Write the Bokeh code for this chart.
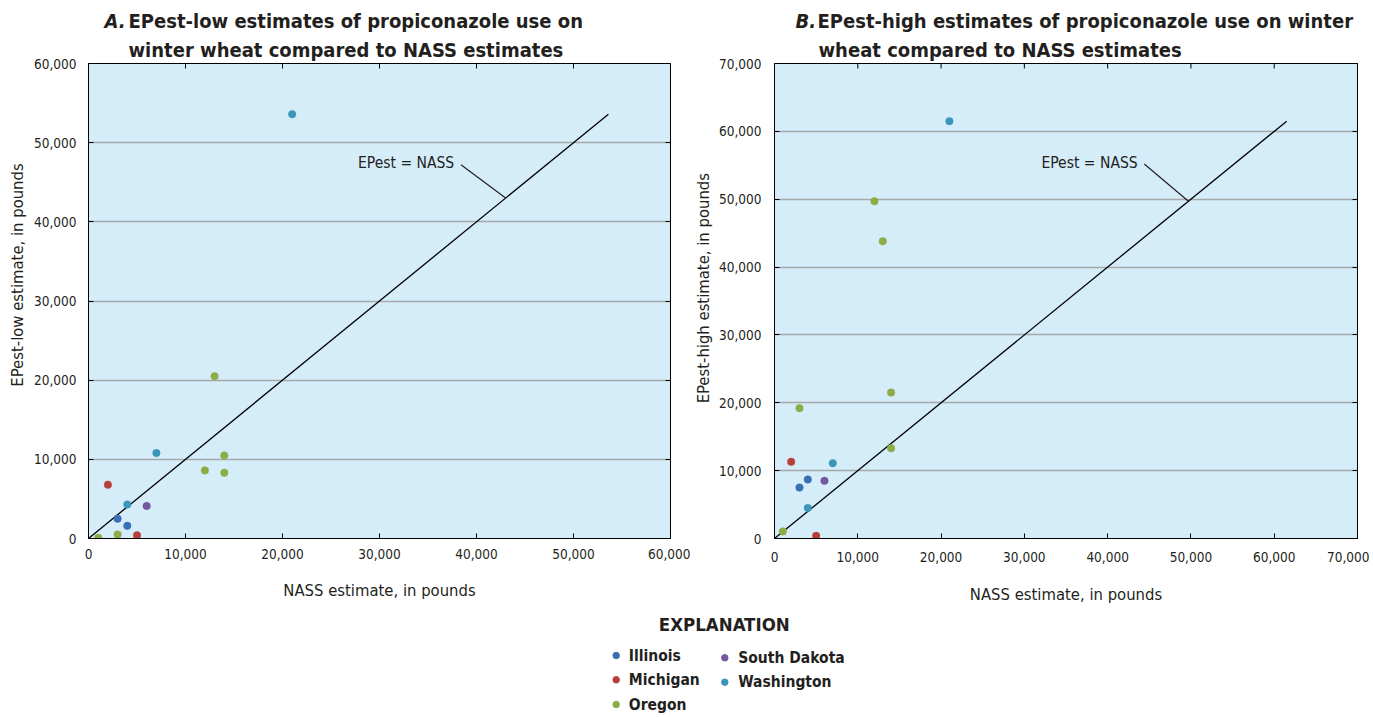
import math
from bokeh.plotting import figure
from bokeh.models import (Range1d, LinearAxis, SingleIntervalTicker, NumeralTickFormatter, ColumnDataSource,
                          Label, CustomJSTickFormatter, Title)
from bokeh.layouts import column, row
from bokeh.embed import file_html
from bokeh.resources import INLINE
from bokeh.core.properties import value

# ---------------- data ----------------
states = ["Illinois", "Michigan", "Oregon", "South Dakota", "Washington"]
state_colors = ["#3b6fb4", "#b73f3a", "#8dab46", "#75579d", "#3a97b7"]

point_state = ["Illinois", "Illinois", "Michigan", "Michigan",
               "Oregon", "Oregon", "Oregon", "Oregon", "Oregon", "Oregon",
               "South Dakota", "Washington", "Washington", "Washington"]
nass_lbs = [3000, 4000, 2000, 5000,
            1000, 3000, 12000, 13000, 14000, 14000,
            6000, 4000, 7000, 21000]
epest_low_lbs = [2500, 1600, 6800, 400,
                 100, 500, 8600, 20500, 10500, 8300,
                 4100, 4300, 10800, 53600]
epest_high_lbs = [7500, 8700, 11300, 400,
                  1050, 19200, 49700, 43800, 21500, 13300,
                  8500, 4500, 11100, 61500]

title_letters = ["A.", "B."]
title_line1 = ["EPest-low estimates of propiconazole use on",
               "EPest-high estimates of propiconazole use on winter"]
title_line2 = ["winter wheat compared to NASS estimates",
               "wheat compared to NASS estimates"]
y_titles = ["EPest-low estimate, in pounds", "EPest-high estimate, in pounds"]
x_title = "NASS estimate, in pounds"

FONT = "'Liberation Sans Narrow', 'DejaVu Sans Condensed', 'DejaVu Sans', sans-serif"
TXT = "#231f20"
BG = "#d5ecf9"
GRID = "#a6a8ab"


def blank(width, height, xr, yr):
    f = figure(width=width, height=height, output_backend="svg", toolbar_location=None,
               x_range=Range1d(*xr), y_range=Range1d(*yr),
               x_axis_type=None, y_axis_type=None, min_border=0)
    f.outline_line_color = None
    f.xgrid.grid_line_color = None
    f.ygrid.grid_line_color = None
    f.background_fill_color = "white"
    f.border_fill_color = "white"
    return f


def make_panel(yvals, axmax, line2, width, height, bl, br, bt, bb, frame_h, lead, ann_x, ann_y,
               tick_standoff_x, tick_standoff_y, xlab_standoff, title_offset):
    p = figure(width=width, height=height, output_backend="svg", toolbar_location=None,
               x_range=Range1d(0, axmax), y_range=Range1d(0, axmax),
               min_border_left=bl, min_border_right=br, min_border_top=bt, min_border_bottom=bb)
    p.background_fill_color = BG
    p.border_fill_color = "white"
    p.outline_line_color = "black"
    p.outline_line_width = 1
    p.xgrid.grid_line_color = None
    p.ygrid.grid_line_color = GRID
    p.ygrid.grid_line_width = 1.3
    p.ygrid.ticker = SingleIntervalTicker(interval=10000)

    for ax in (p.xaxis[0], p.yaxis[0]):
        ax.ticker = SingleIntervalTicker(interval=10000)
        ax.formatter = NumeralTickFormatter(format="0,0")
        ax.major_tick_in = 5
        ax.major_tick_out = 0
        ax.minor_tick_line_color = None
        ax.axis_line_color = "black"
        ax.major_tick_line_color = "black"
        ax.major_label_text_font = FONT
        ax.major_label_text_font_size = "13.5px"
        ax.major_label_text_color = TXT
    p.xaxis[0].major_label_standoff = tick_standoff_x
    p.yaxis[0].major_label_standoff = tick_standoff_y
    p.xaxis[0].axis_label = x_title
    p.xaxis[0].axis_label_text_font = FONT
    p.xaxis[0].axis_label_text_font_size = "16.5px"
    p.xaxis[0].axis_label_text_font_style = "normal"
    p.xaxis[0].axis_label_text_color = TXT
    p.xaxis[0].axis_label_standoff = xlab_standoff

    rax = LinearAxis(ticker=SingleIntervalTicker(interval=10000),
                     formatter=CustomJSTickFormatter(code="return ''"))
    rax.major_tick_in = 5
    rax.major_tick_out = 0
    rax.minor_tick_line_color = None
    rax.major_label_standoff = 0
    rax.axis_line_color = "black"
    p.add_layout(rax, "right")

    # inward tick marks along the top edge
    tick_len = 5 * axmax / frame_h
    tx = list(range(10000, axmax, 10000))
    p.segment(x0=tx, y0=[axmax] * len(tx), x1=tx, y1=[axmax - tick_len] * len(tx),
              line_color="black", line_width=1)

    # second title line
    p.add_layout(Title(text=line2, align="left", offset=title_offset, text_font=FONT,
                       text_font_size="20px", text_font_style="bold", text_color=TXT,
                       standoff=4), "above")

    # 1:1 line
    top = max(yvals)
    p.line([0, top], [0, top], line_color="black", line_width=1.3)
    # leader line and annotation
    p.line([lead[0], lead[2]], [lead[1], lead[3]], line_color=TXT, line_width=1.2)
    p.add_layout(Label(x=ann_x, y=ann_y, text="EPest = NASS", text_font=FONT, text_font_size="15.5px",
                       text_color=TXT, text_align="right", text_baseline="middle"))

    cols = [state_colors[states.index(s)] for s in point_state]
    src = ColumnDataSource(dict(x=nass_lbs, y=yvals, c=cols))
    p.scatter("x", "y", source=src, size=7.5, fill_color="c", line_color="c", line_width=0.5)
    return p


HDR_H = 33
# ---------------- header with first title lines ----------------
hdr = blank(1369, HDR_H, (0, 1369), (HDR_H, 0))
hdr.text([104, 795], [20, 20], text=title_letters, text_font=value(FONT), text_font_size="20px",
         text_font_style="bold italic", text_color=TXT, text_baseline="middle")
hdr.text([128, 817], [20, 20], text=title_line1, text_font=value(FONT), text_font_size="20px",
         text_font_style="bold", text_color=TXT, text_baseline="middle")

ROW_BOTTOM = 608
ROW_H = ROW_BOTTOM - HDR_H
TOP_B = 63 - HDR_H

# ---------------- y-axis titles (narrow strips) ----------------
yA = blank(30, ROW_H, (0, 30), (0, ROW_H))
yA.text([17], [ROW_BOTTOM - 289], text=[y_titles[0]], angle=math.pi / 2, text_font=value(FONT),
        text_font_size="16.5px", text_color=TXT, text_align="center", text_baseline="middle")
yB = blank(26, ROW_H, (0, 26), (0, ROW_H))
yB.text([13], [ROW_BOTTOM - 305], text=[y_titles[1]], angle=math.pi / 2, text_font=value(FONT),
        text_font_size="16.5px", text_color=TXT, text_align="center", text_baseline="middle")

pA = make_panel(epest_low_lbs, 60000, title_line2[0], width=660, height=ROW_H, bl=58, br=20, bt=TOP_B,
                bb=ROW_H - TOP_B - 479, frame_h=479,
                lead=(38400, 47200, 43000, 43000), ann_x=37700, ann_y=47400,
                tick_standoff_x=6, tick_standoff_y=8, xlab_standoff=19, title_offset=128 - 88)
pB = make_panel(epest_high_lbs, 70000, title_line2[1], width=653, height=ROW_H, bl=57, br=12, bt=TOP_B,
                bb=ROW_H - TOP_B - 475, frame_h=475,
                lead=(44400, 55200, 49700, 49700), ann_x=43600, ann_y=55300,
                tick_standoff_x=9, tick_standoff_y=9, xlab_standoff=20, title_offset=817 - 773)

# ---------------- explanation (legend) ----------------
LEG_TOP = ROW_BOTTOM
pL = blank(1369, 717 - LEG_TOP, (0, 1369), (717 - LEG_TOP, 0))
leg_dot_x = [615.7, 615.7, 615.7, 724.3, 724.3]
leg_txt_x = [628.3, 628.3, 628.3, 737.7, 737.7]
leg_y = [655 - LEG_TOP, 679.3 - LEG_TOP, 704 - LEG_TOP, 657.3 - LEG_TOP, 681.7 - LEG_TOP]
lsrc = ColumnDataSource(dict(dx=leg_dot_x, tx=leg_txt_x, y=leg_y, c=state_colors, t=states))
pL.scatter("dx", "y", source=lsrc, size=6.5, fill_color="c", line_color="c")
pL.text("tx", "y", text="t", source=lsrc, text_font=value(FONT), text_font_size="15.5px",
        text_font_style="bold", text_color=TXT, text_baseline="middle", text_align="left")
pL.text([723.8], [624 - LEG_TOP], text=["EXPLANATION"], text_font=value(FONT), text_font_size="18.5px",
        text_font_style="bold", text_color=TXT, text_baseline="middle", text_align="center")

layout = column(hdr, row(yA, pA, yB, pB), pL)
open("out.html", "w").write(file_html(layout, INLINE))
